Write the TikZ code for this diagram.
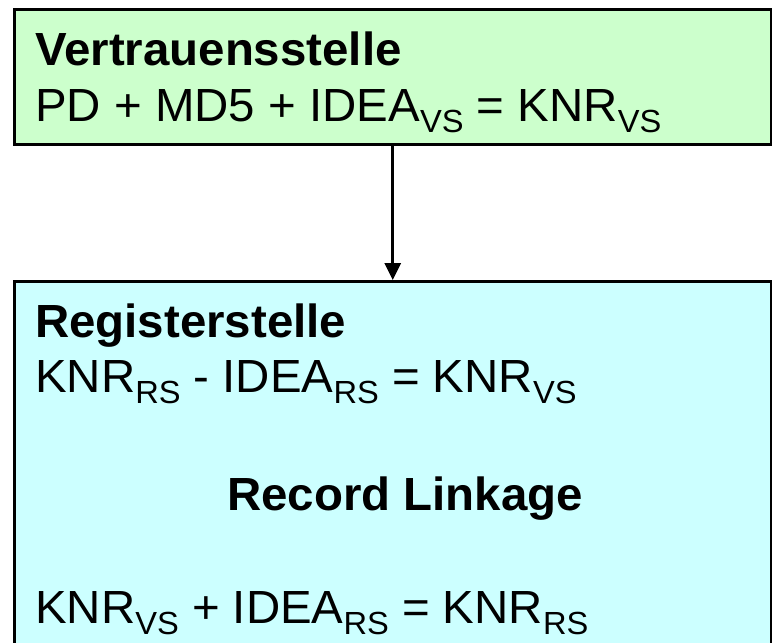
\documentclass[tikz,border=0pt]{standalone}
\usepackage{fontspec}
\setmainfont{Liberation Sans}[FakeStretch=1.02]
\usetikzlibrary{arrows.meta}
\definecolor{boxgreen}{HTML}{CCFFCC}
\definecolor{boxcyan}{HTML}{CCFFFF}
\newcommand{\sbs}[1]{\raisebox{-11pt}{\fontsize{32}{32}\selectfont #1}}
\tikzset{
  panel/.style={draw=black, line width=2.5pt, rectangle, anchor=north west, inner sep=0pt},
  txt/.style={anchor=base west, inner sep=0pt, font=\fontsize{46.5}{50}\selectfont},
  btxt/.style={txt, font=\fontsize{46.5}{50}\selectfont\bfseries},
  link/.style={line width=3pt, -{Triangle[width=16pt,length=17pt]}}
}
\begin{document}
\begin{tikzpicture}[x=1pt,y=-1pt]
\useasboundingbox (0,0) rectangle (772,643);
\clip (0,0) rectangle (772,643);
\fill[white] (0,0) rectangle (772,643);
\node[panel, fill=boxgreen, minimum width=757pt, minimum height=135pt] (vs) at (13,8) {};
\node[panel, fill=boxcyan, minimum width=757pt, minimum height=380pt] (rs) at (13,280) {};
\node[btxt] (t1) at (35,65) {Vertrauensstelle};
\node[txt] (t2) at (35,121) {PD + MD5 + IDEA\sbs{VS} = KNR\sbs{VS}};
\node[btxt] (t3) at (35,337) {Registerstelle};
\node[txt] (t4) at (35,392) {KNR\sbs{RS} - IDEA\sbs{RS} = KNR\sbs{VS}};
\node[btxt] (t5) at (227,510) {Record Linkage};
\node[txt] (t6) at (35,623) {KNR\sbs{VS} + IDEA\sbs{RS} = KNR\sbs{RS}};
\draw[link] (vs.south) -- (rs.north);
\end{tikzpicture}
\end{document}
